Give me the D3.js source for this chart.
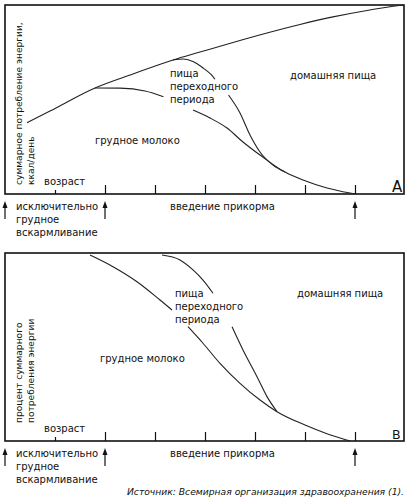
<!DOCTYPE html>
<html>
<head>
<meta charset="utf-8">
<script src="https://cdn.jsdelivr.net/npm/d3@7"></script>
<style>
  body { margin: 0; background: #fff; }
  svg text { font-family: "DejaVu Sans", sans-serif; font-size: 10px; fill: #111; }
</style>
</head>
<body>
<div id="chart"></div>
<script>
// age ticks (arbitrary units along the bottom) and arrow marks
var ageTicks = [1, 2, 3, 4, 5, 6, 7];
var arrowAges = [0, 2, 7];

// panel A: energy intake, kcal/day (relative units 0-100)
var totalA = [[0.44, 37.7], [0.9, 43.9], [1.8, 56.1], [2.56, 63.5], [3.36, 70.9], [3.9, 75.1],
  [4.56, 80.2], [5.24, 85.2], [5.9, 89.7], [6.56, 93.7], [7.24, 97.1], [7.96, 100]];
var milkA = [[1.8, 56.1], [2.3, 56.0], [2.8, 54.5], [3.17, 51.5], null, [3.76, 44.4], [4.1, 40.2],
  [4.44, 34.9], [4.76, 27.5], [5.1, 20.6], [5.6, 11.6], [5.96, 7.4], [6.44, 3.2], [6.9, 0.5], [7.0, 0]];
var transA = [[3.36, 70.9], [3.57, 71.4], [3.77, 70.0], [3.97, 66.5], [4.13, 63.0], [4.2, 60.7], null,
  [4.47, 52.4], [4.7, 42.9], [4.9, 31.2], [5.1, 22.2], [5.36, 15.3], [5.6, 11.6]];

// panel B: percent of total energy intake
var milkB = [[1.7, 98.9], [2.16, 92.7], [2.64, 84.7], [3.1, 75.0], [3.34, 69.7], null, [3.66, 60.8],
  [3.96, 52.0], [4.3, 41.3], [4.7, 30.7], [5.1, 21.8], [5.44, 15.6], [6.0, 8.5], [6.4, 4.3], [6.9, 0]];
var transB = [[3.14, 98.9], [3.5, 96.3], [3.76, 91.0], [3.96, 85.6], [4.16, 78.6], null,
  [4.54, 60.8], [4.76, 48.4], [5.04, 34.2], [5.24, 23.6], [5.44, 15.6]];

var svgWidth = 410;
var svgHeight = 500;

var svg = d3.select("#chart")
  .append("svg")
  .attr("width", svgWidth)
  .attr("height", svgHeight);

// shared x scale
var xScale = d3.scaleLinear()
  .domain([0, 8])
  .range([5, 405]);

//draw one panel
function drawPanel(opt) {
  var yScale = d3.scaleLinear()
    .domain([0, 100])
    .range([opt.bottom, opt.top]);

  var g = svg.append("g");

  // frame
  g.append("rect")
    .attr("x", xScale(0))
    .attr("y", opt.top)
    .attr("width", 399)
    .attr("height", opt.bottom - opt.top)
    .attr("fill", "none")
    .attr("stroke", "#111")
    .attr("stroke-width", 1.6);

  // ticks pointing up from the bottom edge
  var axis = g.append("g")
    .attr("transform", `translate(0, ${opt.bottom})`)
    .call(d3.axisTop(xScale).tickValues(ageTicks).tickSize(9).tickSizeOuter(0).tickFormat(""));
  axis.select(".domain").remove();
  axis.selectAll(".tick line")
    .attr("stroke", "#111")
    .attr("stroke-width", 1.2)
    .attr("y2", d => d === ageTicks[0] ? -4 : -9);

  // curves, null entries leave a gap where the labels sit
  var line = d3.line()
    .defined(d => d)
    .x(d => xScale(d[0]))
    .y(d => yScale(d[1]))
    .curve(d3.curveMonotoneX);

  opt.series.forEach(function(s) {
    g.append("path")
      .datum(s)
      .attr("d", line)
      .attr("fill", "none")
      .attr("stroke", "#222")
      .attr("stroke-width", 1.1);
  });

  // arrows below the frame
  arrowAges.forEach(function(a) {
    var ax = xScale(a);
    g.append("line")
      .attr("x1", ax).attr("x2", ax)
      .attr("y1", opt.bottom + 12).attr("y2", opt.bottom + 25)
      .attr("stroke", "#111")
      .attr("stroke-width", 1.2);
    g.append("path")
      .attr("d", `M${ax},${opt.bottom + 7} L${ax - 2.5},${opt.bottom + 14} L${ax + 2.5},${opt.bottom + 14} Z`)
      .attr("fill", "#111");
  });

  // y label (rotated)
  opt.yLabel.forEach(function(t, i) {
    g.append("text")
      .attr("transform", `translate(${22 + i * 12}, ${opt.yLabelBottom}) rotate(-90)`)
      .style("font-size", "9.1px")
      .text(t);
  });

  // labels inside
  opt.transLabel.forEach(function(t, i) {
    g.append("text")
      .attr("x", opt.transX)
      .attr("y", opt.transY + i * 13)
      .text(t);
  });
  g.append("text").attr("x", opt.homeX).attr("y", opt.homeY).text("домашняя пища");
  g.append("text").attr("x", opt.milkX).attr("y", opt.milkY).text("грудное молоко");
  g.append("text").attr("x", 44).attr("y", opt.bottom - 9).text("возраст");
  g.append("text")
    .attr("x", 392)
    .attr("y", opt.bottom - 2.5)
    .style("font-size", opt.letterSize)
    .text(opt.letter);

  // labels below
  ["исключительно", "грудное", "вскармливание"].forEach(function(t, i) {
    g.append("text")
      .attr("x", 16)
      .attr("y", opt.bottom + 16 + i * 13)
      .text(t);
  });
  g.append("text").attr("x", 170).attr("y", opt.bottom + 16).text("введение прикорма");
}

drawPanel({
  top: 5, bottom: 194,
  series: [totalA, milkA, transA],
  yLabel: ["суммарное потребление энергии,", "ккал/день"],
  yLabelBottom: 185,
  transLabel: ["пища", "переходного", "периода"],
  transX: 170, transY: 77,
  homeX: 290, homeY: 79,
  milkX: 95, milkY: 144,
  letter: "A", letterSize: "15px"
});

drawPanel({
  top: 253, bottom: 441,
  series: [milkB, transB],
  yLabel: ["процент суммарного", "потребления энергии"],
  yLabelBottom: 423,
  transLabel: ["пища", "переходного", "периода"],
  transX: 175, transY: 297,
  homeX: 297, homeY: 297,
  milkX: 100, milkY: 362,
  letter: "B", letterSize: "12.5px"
});

// source note
svg.append("text")
  .attr("x", 404)
  .attr("y", 495)
  .attr("text-anchor", "end")
  .style("font-style", "italic")
  .style("font-size", "9.2px")
  .text("Источник: Всемирная организация здравоохранения (1).");
</script>
</body>
</html>
